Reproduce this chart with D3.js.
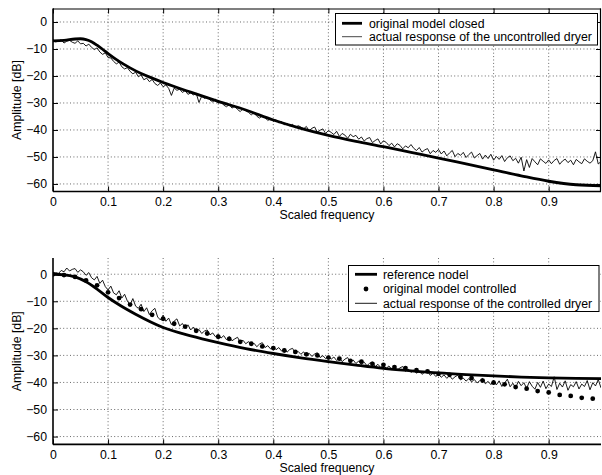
<!DOCTYPE html>
<html>
<head>
<meta charset="utf-8">
<script src="https://cdn.jsdelivr.net/npm/d3@7"></script>
<style>
  html, body { margin: 0; padding: 0; background: #fff; }
  svg { display: block; }
  text { font-family: "Liberation Sans", Arial, Helvetica, sans-serif; fill: #000; }
</style>
</head>
<body>
<svg id="chart" width="602" height="475"></svg>
<script>
// ---------------- DATA ----------------
const xTicks = [0, 0.1, 0.2, 0.3, 0.4, 0.5, 0.6, 0.7, 0.8, 0.9];
const xTickLabels = ["0", "0.1", "0.2", "0.3", "0.4", "0.5", "0.6", "0.7", "0.8", "0.9"];
const yTicks = [0, -10, -20, -30, -40, -50, -60];
const yTickLabels = ["0", "\u221210", "\u221220", "\u221230", "\u221240", "\u221250", "\u221260"];

const xAxisTitle = "Scaled frequency";
const yAxisTitle = "Amplitude [dB]";

const topLegend = ["original model closed", "actual response of the uncontrolled dryer"];
const bottomLegend = ["reference nodel", "original model controlled", "actual response of the controlled dryer"];

// smooth model curves (frequency, dB)
const modelClosedFreq = [0, 0.02, 0.04, 0.05, 0.06, 0.07, 0.08, 0.09, 0.1, 0.12, 0.14, 0.16, 0.18, 0.2, 0.25, 0.3, 0.35, 0.4, 0.45, 0.5, 0.55, 0.6, 0.65, 0.7, 0.75, 0.8, 0.85, 0.9, 0.95, 1.0];
const modelClosedDb = [-7, -6.8, -6.3, -6.2, -6.5, -7.3, -8.6, -10.1, -11.7, -14.6, -17.0, -19.1, -20.8, -22.4, -26.0, -29.4, -32.6, -36.3, -39.4, -42.0, -44.2, -46.2, -48.3, -50.4, -52.6, -54.8, -57.0, -59.0, -60.3, -60.7];

const referenceFreq = [0, 0.02, 0.04, 0.06, 0.08, 0.1, 0.12, 0.15, 0.2, 0.25, 0.3, 0.35, 0.4, 0.45, 0.5, 0.55, 0.6, 0.65, 0.7, 0.75, 0.8, 0.85, 0.9, 0.95, 1.0];
const referenceDb = [0, -0.2, -1.0, -2.8, -5.5, -8.6, -11.3, -14.8, -19.7, -22.8, -25.3, -27.5, -29.3, -30.9, -32.3, -33.6, -34.8, -35.7, -36.5, -37.1, -37.6, -38.0, -38.3, -38.5, -38.6];

// original model controlled (dots), every 0.02
const dotFreq = [0, 0.02, 0.04, 0.06, 0.08, 0.1, 0.12, 0.14, 0.16, 0.18, 0.2, 0.22, 0.24, 0.26, 0.28, 0.3, 0.32, 0.34, 0.36, 0.38, 0.4, 0.42, 0.44, 0.46, 0.48, 0.5, 0.52, 0.54, 0.56, 0.58, 0.6, 0.62, 0.64, 0.66, 0.68, 0.7, 0.72, 0.74, 0.76, 0.78, 0.8, 0.82, 0.84, 0.86, 0.88, 0.9, 0.92, 0.94, 0.96, 0.98];
const dotDb = [0, -0.3, -1.0, -2.3, -4.1, -6.7, -8.8, -11.2, -12.9, -15.0, -16.5, -18.3, -19.4, -20.9, -21.9, -23.1, -23.9, -25.0, -25.7, -26.7, -27.3, -28.2, -28.7, -29.6, -30.0, -30.8, -31.2, -32.0, -32.3, -33.1, -33.5, -34.3, -34.7, -35.5, -35.9, -36.8, -37.2, -38.0, -38.4, -39.3, -40.1, -40.7, -41.7, -42.3, -43.2, -43.7, -44.6, -45.0, -45.7, -46.0];

// measured responses, sampled every 0.005 in scaled frequency
const measuredStep = 0.005;
const uncontrolledDb = [
  -6.5,-7.4,-7.0,-6.6,-7.8,-7.1,-6.8,-7.5,-7.9,-7.0,-8.1,
  -7.9,-8.9,-8.2,-9.4,-10.2,-9.6,-11.1,-12.0,-11.4,-13.2,
  -13.3,-14.6,-15.5,-14.9,-16.6,-17.4,-16.9,-18.3,-19.2,-18.6,
  -20.3,-19.6,-21.4,-20.8,-22.1,-21.3,-22.8,-23.5,-22.6,-24.0,
  -23.3,-24.6,-27.2,-24.5,-25.3,-24.9,-26.1,-25.4,-26.8,-26.3,
  -27.0,-26.4,-29.8,-27.5,-28.3,-27.8,-28.9,-29.6,-28.6,-30.1,
  -29.4,-30.8,-31.4,-30.6,-31.9,-31.2,-32.4,-33.2,-32.1,-32.9,
  -33.5,-34.4,-33.6,-34.9,-35.6,-34.8,-35.4,-36.5,-35.7,-36.8,
  -36.2,-37.4,-36.9,-38.1,-37.5,-38.6,-37.9,-39.2,-38.4,-38.9,
  -39.6,-38.7,-40.3,-39.4,-38.9,-40.8,-40.1,-39.6,-41.3,-40.2,
  -40.9,-41.7,-40.5,-42.4,-41.3,-41.9,-43.1,-41.6,-42.5,-42.0,
  -43.4,-42.6,-44.1,-43.2,-42.8,-44.7,-43.9,-43.3,-45.2,-44.0,
  -44.6,-45.8,-44.9,-46.3,-45.1,-45.7,-47.0,-45.9,-46.6,-45.4,
  -46.8,-47.6,-46.5,-48.2,-47.4,-46.9,-48.8,-47.6,-48.3,-47.2,
  -48.9,-47.8,-49.6,-48.5,-47.6,-49.9,-48.7,-49.4,-48.3,-50.2,
  -49.1,-48.2,-50.4,-49.5,-48.7,-50.8,-49.3,-50.6,-49.0,-51.2,
  -49.8,-50.9,-49.5,-51.7,-50.3,-49.6,-51.4,-50.5,-52.3,-50.1,
  -55.2,-51.0,-53.9,-50.6,-51.8,-52.9,-50.7,-51.6,-52.4,-51.1,
  -52.5,-51.3,-50.6,-52.7,-51.5,-50.8,-52.1,-51.2,-52.9,-50.9,
  -51.8,-52.5,-50.7,-51.6,-52.3,-51.4,-48.1,-52.6,-51.7
];
const controlledDb = [
  0.0,0.6,0.3,1.4,0.9,2.3,1.2,1.8,2.1,0.7,1.6,
  0.9,-0.4,0.6,-1.3,-2.1,-0.8,-3.4,-2.2,-4.6,-5.8,
  -4.4,-6.9,-7.6,-6.1,-8.8,-7.4,-9.9,-11.3,-9.0,-11.8,
  -12.6,-11.1,-13.8,-12.4,-14.9,-13.5,-12.6,-15.8,-16.9,-15.1,
  -17.4,-16.2,-18.6,-17.3,-16.5,-19.1,-18.2,-19.9,-18.7,-20.6,
  -19.5,-21.3,-20.4,-21.9,-21.0,-20.6,-22.4,-21.7,-23.1,-22.3,
  -23.6,-22.7,-24.2,-23.0,-24.6,-23.9,-23.3,-25.1,-24.4,-25.7,
  -24.9,-26.2,-25.5,-26.8,-25.8,-25.3,-27.1,-26.4,-27.6,-26.7,
  -27.9,-27.1,-28.4,-27.5,-28.8,-27.8,-27.4,-29.2,-28.5,-29.6,
  -28.7,-30.0,-29.2,-30.4,-29.5,-29.0,-30.8,-30.1,-31.2,-30.3,
  -31.4,-30.6,-31.9,-30.9,-32.3,-31.4,-30.8,-32.6,-31.7,-33.0,
  -32.1,-33.4,-32.5,-33.8,-32.9,-32.4,-34.1,-33.3,-34.5,-33.6,
  -34.8,-33.9,-35.2,-34.2,-35.5,-34.6,-34.1,-35.9,-35.1,-36.3,
  -35.4,-36.6,-35.8,-37.0,-36.2,-35.7,-37.4,-36.6,-37.8,-36.9,
  -38.1,-37.2,-38.5,-37.5,-38.8,-37.9,-37.3,-39.1,-38.4,-39.5,
  -38.6,-39.8,-38.9,-40.2,-39.3,-38.5,-40.5,-39.6,-40.8,-39.1,
  -40.9,-39.4,-41.5,-40.2,-38.8,-41.6,-40.3,-41.9,-39.6,-41.2,
  -40.1,-42.2,-39.7,-41.4,-42.5,-40.0,-41.8,-39.5,-42.3,-40.6,
  -41.5,-37.9,-42.6,-40.3,-41.7,-39.4,-42.9,-40.8,-41.6,-39.7,
  -42.4,-40.6,-41.5,-39.3,-42.7,-40.1,-41.3,-38.9,-42.0
];

// ---------------- DRAWING ----------------
const svg = d3.select("#chart");
const FONT = 12.3;

function zip(xs, ys) { return xs.map((x, i) => [x, ys[i]]); }
function measured(ys) { return ys.map((y, i) => [i * measuredStep, y]); }

function panel(cfg) {
  const x = d3.scaleLinear().domain([0, 0.995]).range([cfg.left, cfg.right]);
  const y = d3.scaleLinear().domain(cfg.yDomain).range([cfg.bottom, cfg.top]);
  const g = svg.append("g");
  const clipId = "clip" + cfg.id;
  svg.append("defs").append("clipPath").attr("id", clipId)
    .append("rect").attr("x", cfg.left).attr("y", cfg.top)
    .attr("width", cfg.right - cfg.left).attr("height", cfg.bottom - cfg.top);

  // grid
  const grid = g.append("g").attr("stroke", "#444").attr("stroke-width", 0.8)
    .attr("stroke-dasharray", "1,2.4");
  xTicks.filter(t => t > 0).forEach(t => {
    grid.append("line").attr("x1", x(t)).attr("x2", x(t))
      .attr("y1", cfg.top).attr("y2", cfg.bottom);
  });
  yTicks.forEach(t => {
    grid.append("line").attr("x1", cfg.left).attr("x2", cfg.right)
      .attr("y1", y(t)).attr("y2", y(t));
  });

  // axes with inward ticks
  const xAxis = d3.axisBottom(x).tickValues(xTicks).tickSize(-5)
    .tickFormat((d, i) => xTickLabels[i]).tickPadding(6);
  const gx = g.append("g").attr("transform", `translate(0,${cfg.bottom})`).call(xAxis);
  const yAxis = d3.axisLeft(y).tickValues(yTicks).tickSize(-5)
    .tickFormat((d, i) => yTickLabels[i]).tickPadding(6);
  const gy = g.append("g").attr("transform", `translate(${cfg.left},0)`).call(yAxis);
  [gx, gy].forEach(a => {
    a.select(".domain").remove();
    a.selectAll("line").attr("stroke", "#000").attr("stroke-width", 1);
    a.selectAll("text").attr("font-size", FONT)
      .attr("font-family", "'Liberation Sans', Arial, sans-serif").attr("fill", "#000");
  });
  if (cfg.box) {
    const gxt = g.append("g").attr("transform", `translate(0,${cfg.top})`)
      .call(d3.axisTop(x).tickValues(xTicks).tickSize(-5).tickFormat(""));
    const gyr = g.append("g").attr("transform", `translate(${cfg.right},0)`)
      .call(d3.axisRight(y).tickValues(yTicks).tickSize(-5).tickFormat(""));
    [gxt, gyr].forEach(a => { a.select(".domain").remove(); a.selectAll("line").attr("stroke", "#000"); });
    g.append("line").attr("x1", cfg.left).attr("x2", cfg.right).attr("y1", cfg.top + 0.5).attr("y2", cfg.top + 0.5)
      .attr("stroke", "#000").attr("stroke-width", 1.2);
    g.append("line").attr("x1", cfg.right - 0.5).attr("x2", cfg.right - 0.5).attr("y1", cfg.top).attr("y2", cfg.bottom)
      .attr("stroke", "#000").attr("stroke-width", 1.2);
  }
  // main axis lines
  g.append("line").attr("x1", cfg.left).attr("x2", cfg.right).attr("y1", cfg.bottom).attr("y2", cfg.bottom)
    .attr("stroke", "#000").attr("stroke-width", 1.6);
  g.append("line").attr("x1", cfg.left).attr("x2", cfg.left).attr("y1", cfg.top).attr("y2", cfg.bottom)
    .attr("stroke", "#000").attr("stroke-width", 1.6);

  // titles
  g.append("text").attr("x", (cfg.left + cfg.right) / 2).attr("y", cfg.bottom + cfg.titleOffset)
    .attr("text-anchor", "middle").attr("font-size", FONT).text(xAxisTitle);
  g.append("text").attr("transform", `translate(${cfg.left - 32},${(cfg.top + cfg.bottom) / 2}) rotate(-90)`)
    .attr("text-anchor", "middle").attr("font-size", FONT).text(yAxisTitle);

  const data = g.append("g").attr("clip-path", `url(#${clipId})`);
  return { x, y, g, data };
}

const lineSmooth = (x, y) => d3.line().x(d => x(d[0])).y(d => y(d[1])).curve(d3.curveMonotoneX);
const lineRaw = (x, y) => d3.line().x(d => x(d[0])).y(d => y(d[1]));

// ---- top panel ----
const P1 = panel({ id: 1, left: 53, right: 601, top: 8.5, bottom: 191.5, yDomain: [-62.8, 5], box: true, titleOffset: 27.5 });
P1.data.append("path").datum(measured(uncontrolledDb)).attr("d", lineRaw(P1.x, P1.y))
  .attr("fill", "none").attr("stroke", "#000").attr("stroke-width", 0.9);
P1.data.append("path").datum(zip(modelClosedFreq, modelClosedDb)).attr("d", lineSmooth(P1.x, P1.y))
  .attr("fill", "none").attr("stroke", "#000").attr("stroke-width", 2.8);

// legend top
{
  const lg = svg.append("g");
  lg.append("rect").attr("x", 335.5).attr("y", 13.5).attr("width", 262).attr("height", 31.5)
    .attr("fill", "#fff").attr("stroke", "#000").attr("stroke-width", 1);
  const rows = [23.3, 36.7];
  lg.append("line").attr("x1", 342).attr("x2", 362).attr("y1", rows[0]).attr("y2", rows[0])
    .attr("stroke", "#000").attr("stroke-width", 2.8);
  lg.append("line").attr("x1", 342).attr("x2", 362).attr("y1", rows[1]).attr("y2", rows[1])
    .attr("stroke", "#333").attr("stroke-width", 0.9);
  topLegend.forEach((t, i) => lg.append("text").attr("x", 369).attr("y", rows[i] + 4.3)
    .attr("font-size", FONT).text(t));
}

// ---- bottom panel ----
const P2 = panel({ id: 2, left: 53, right: 601, top: 258, bottom: 444.4, yDomain: [-62.9, 6], box: false, titleOffset: 27.5 });
P2.data.append("path").datum(measured(controlledDb)).attr("d", lineRaw(P2.x, P2.y))
  .attr("fill", "none").attr("stroke", "#000").attr("stroke-width", 0.9);
P2.data.append("path").datum(zip(referenceFreq, referenceDb)).attr("d", lineSmooth(P2.x, P2.y))
  .attr("fill", "none").attr("stroke", "#000").attr("stroke-width", 2.8);
P2.data.selectAll("circle.dot").data(zip(dotFreq, dotDb)).enter().append("circle")
  .attr("class", "dot").attr("cx", d => P2.x(d[0])).attr("cy", d => P2.y(d[1])).attr("r", 2.4)
  .attr("fill", "#000");

// legend bottom
{
  const lg = svg.append("g");
  lg.append("rect").attr("x", 348.5).attr("y", 265.5).attr("width", 250.5).attr("height", 46)
    .attr("fill", "#fff").attr("stroke", "#000").attr("stroke-width", 1);
  const rows = [274.3, 289, 303.3];
  lg.append("line").attr("x1", 355).attr("x2", 377).attr("y1", rows[0]).attr("y2", rows[0])
    .attr("stroke", "#000").attr("stroke-width", 2.8);
  lg.append("circle").attr("cx", 366).attr("cy", rows[1]).attr("r", 2.4).attr("fill", "#000");
  lg.append("line").attr("x1", 355).attr("x2", 377).attr("y1", rows[2]).attr("y2", rows[2])
    .attr("stroke", "#000").attr("stroke-width", 0.9);
  bottomLegend.forEach((t, i) => lg.append("text").attr("x", 383).attr("y", rows[i] + 4.3)
    .attr("font-size", FONT).text(t));
}
</script>
</body>
</html>
